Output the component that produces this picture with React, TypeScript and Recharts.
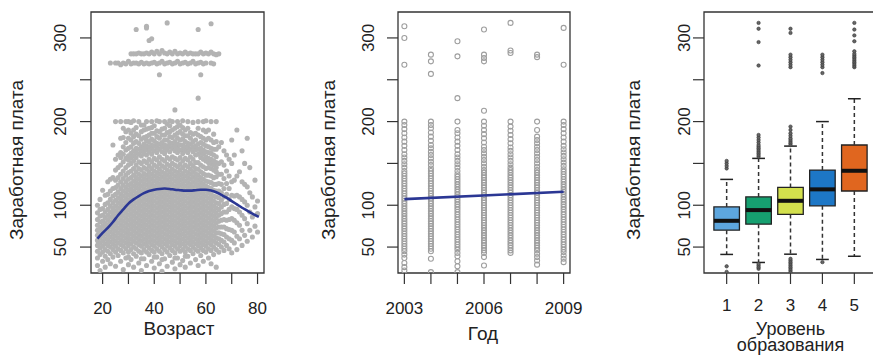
import React from 'react';
import { ScatterChart, Scatter, XAxis, YAxis, ReferenceArea, ReferenceLine } from 'recharts';

const FONT = '"Liberation Sans", Arial, Helvetica, sans-serif';
const INK = '#222';

// ---------- shared y axis ----------
const Y_DOMAIN: [number, number] = [19, 331];
const Y_TICKS = [50, 100, 150, 200, 250, 300];
const Y_TICK_LABELS = [50, 100, 200, 300];
const Y_TITLE = 'Заработная плата';

// ---------- panel 1: age ----------
const AGE_TICKS = [20, 30, 40, 50, 60, 70, 80];
const AGE_TICK_LABELS = [20, 40, 60, 80];
const AGE_TITLE = 'Возраст';
const AGES = [18, 19, 20, 21, 22, 23, 24, 25, 26, 27, 28, 29, 30, 31, 32, 33, 34, 35, 36, 37, 38, 39, 40, 41, 42, 43, 44, 45, 46, 47, 48, 49, 50, 51, 52, 53, 54, 55, 56, 57, 58, 59, 60, 61, 62, 63, 64, 65, 66, 67, 68, 69, 70, 71, 72, 73, 74, 75, 76, 77, 78, 79, 80];
const WAGES_BY_AGE: number[][] = [
  [28, 37, 45, 52, 58, 64, 70, 76, 83, 91, 100],
  [22, 41, 49, 55, 61, 67, 73, 80, 87, 95, 107],
  [33, 44, 51, 57, 63, 69, 75, 81, 88, 96, 118],
  [26, 39, 47, 54, 60, 66, 72, 78, 85, 92, 101, 112],
  [35, 45, 52, 58, 64, 70, 76, 82, 88, 95, 103, 113, 128],
  [30, 42, 50, 56, 62, 68, 74, 80, 86, 92, 99, 107, 117, 131, 270],
  [38, 47, 54, 60, 66, 72, 78, 84, 90, 96, 103, 111, 120, 133, 172],
  [27, 44, 51, 57, 63, 69, 75, 81, 87, 93, 99, 106, 113, 121, 130, 142, 155, 200, 270],
  [40, 48, 55, 61, 67, 73, 79, 85, 91, 97, 103, 109, 116, 124, 133, 145, 160, 270],
  [33, 46, 53, 59, 65, 71, 77, 83, 89, 95, 101, 107, 113, 120, 128, 137, 148, 157, 163, 180, 200, 268],
  [23, 43, 51, 57, 63, 69, 75, 81, 87, 93, 99, 105, 111, 117, 124, 132, 141, 152, 161, 170, 181, 192, 270],
  [37, 48, 55, 61, 67, 73, 79, 85, 91, 97, 103, 109, 115, 121, 128, 136, 145, 156, 166, 175, 188, 200, 269],
  [29, 38, 44, 52, 58, 64, 70, 76, 82, 88, 94, 100, 106, 112, 118, 124, 131, 139, 148, 154, 159, 168, 180, 190, 200, 272],
  [35, 47, 54, 60, 66, 72, 78, 84, 90, 96, 102, 108, 114, 120, 126, 133, 141, 150, 157, 162, 170, 178, 186, 199, 281, 269],
  [26, 42, 50, 57, 63, 69, 75, 81, 87, 93, 99, 105, 111, 117, 123, 129, 136, 144, 153, 159, 165, 174, 182, 190, 201, 281, 270],
  [39, 48, 55, 61, 67, 73, 79, 85, 91, 97, 103, 109, 115, 121, 127, 133, 140, 148, 157, 163, 168, 176, 185, 193, 281, 270, 310],
  [31, 45, 53, 59, 65, 71, 77, 83, 89, 95, 101, 107, 113, 119, 125, 131, 137, 144, 152, 161, 167, 174, 183, 200, 282, 269],
  [22, 36, 43, 51, 57, 63, 69, 75, 81, 87, 93, 99, 105, 111, 117, 123, 129, 135, 142, 150, 159, 165, 170, 179, 188, 196, 281, 271],
  [36, 47, 54, 60, 66, 72, 78, 84, 90, 96, 102, 108, 114, 120, 126, 132, 138, 145, 153, 162, 168, 173, 181, 190, 196, 281, 269],
  [28, 44, 52, 58, 64, 70, 76, 82, 88, 94, 100, 106, 112, 118, 124, 130, 136, 143, 151, 160, 166, 171, 177, 182, 191, 200, 282, 270, 314, 312],
  [41, 49, 56, 62, 68, 74, 80, 86, 92, 98, 104, 110, 116, 122, 128, 134, 140, 147, 155, 164, 170, 176, 184, 192, 281, 269, 297],
  [33, 46, 53, 59, 65, 71, 77, 83, 89, 95, 101, 107, 113, 119, 125, 131, 137, 144, 152, 161, 167, 172, 179, 186, 193, 200, 283, 270, 299],
  [25, 38, 44, 51, 57, 63, 69, 75, 81, 87, 93, 99, 105, 111, 117, 123, 129, 135, 141, 148, 156, 165, 171, 177, 186, 195, 281, 271],
  [38, 48, 55, 61, 67, 73, 79, 85, 91, 97, 103, 109, 115, 121, 127, 133, 139, 146, 154, 163, 169, 174, 182, 189, 201, 284, 269],
  [30, 45, 53, 59, 65, 71, 77, 83, 89, 95, 101, 107, 113, 119, 125, 131, 137, 143, 150, 158, 167, 173, 180, 188, 200, 281, 270, 256],
  [21, 35, 42, 50, 56, 62, 68, 74, 80, 86, 92, 98, 104, 110, 116, 122, 128, 134, 140, 147, 155, 164, 170, 175, 184, 191, 285, 272],
  [36, 47, 54, 60, 66, 72, 78, 84, 90, 96, 102, 108, 114, 120, 126, 132, 138, 145, 153, 162, 168, 172, 178, 184, 192, 200, 282, 269],
  [27, 44, 52, 58, 64, 70, 76, 82, 88, 94, 100, 106, 112, 118, 124, 130, 136, 142, 149, 157, 166, 171, 178, 187, 197, 281, 270, 318],
  [40, 49, 56, 62, 68, 74, 80, 86, 92, 98, 104, 110, 116, 122, 128, 134, 140, 147, 155, 164, 170, 175, 182, 188, 195, 201, 283, 271],
  [32, 46, 53, 59, 65, 71, 77, 83, 89, 95, 101, 107, 113, 119, 125, 131, 137, 143, 150, 158, 168, 174, 181, 190, 200, 281, 269],
  [24, 37, 43, 51, 57, 63, 69, 75, 81, 87, 93, 99, 105, 111, 117, 123, 129, 135, 141, 148, 156, 165, 171, 176, 184, 192, 214, 284, 270],
  [37, 48, 55, 61, 67, 73, 79, 85, 91, 97, 103, 109, 115, 121, 127, 133, 139, 146, 154, 163, 168, 173, 180, 186, 194, 200, 281, 272],
  [29, 45, 52, 58, 64, 70, 76, 82, 88, 94, 100, 106, 112, 118, 124, 130, 136, 142, 149, 157, 166, 172, 178, 188, 196, 282, 269],
  [34, 47, 54, 60, 66, 72, 78, 84, 90, 96, 102, 108, 114, 120, 126, 132, 138, 145, 153, 162, 167, 172, 179, 185, 193, 201, 281, 270],
  [26, 39, 44, 51, 57, 63, 69, 75, 81, 87, 93, 99, 105, 111, 117, 123, 129, 135, 141, 148, 156, 165, 170, 176, 183, 190, 283, 271],
  [39, 48, 55, 61, 67, 73, 79, 85, 91, 97, 103, 109, 115, 121, 127, 133, 139, 146, 154, 163, 169, 174, 183, 192, 200, 281, 269],
  [31, 46, 53, 59, 65, 71, 77, 83, 89, 95, 101, 107, 113, 119, 125, 131, 137, 143, 150, 158, 167, 173, 180, 187, 282, 270],
  [42, 50, 56, 62, 68, 74, 80, 86, 92, 98, 104, 110, 116, 122, 128, 134, 140, 147, 155, 164, 170, 176, 185, 199, 281, 272],
  [35, 47, 54, 60, 66, 72, 78, 84, 90, 96, 102, 108, 114, 120, 126, 132, 138, 144, 151, 160, 166, 171, 178, 186, 281, 269],
  [28, 45, 52, 58, 64, 70, 76, 82, 88, 94, 100, 106, 112, 118, 124, 130, 136, 143, 151, 161, 167, 173, 184, 192, 200, 228, 281, 270, 310],
  [40, 49, 55, 61, 67, 73, 79, 85, 91, 97, 103, 109, 115, 121, 127, 133, 140, 148, 157, 163, 168, 175, 182, 256, 283, 271],
  [33, 46, 53, 59, 65, 71, 77, 83, 89, 95, 101, 107, 113, 119, 125, 131, 138, 146, 155, 161, 166, 173, 180, 190, 200, 281, 269],
  [44, 51, 57, 63, 69, 75, 81, 87, 93, 99, 105, 111, 117, 123, 129, 136, 144, 153, 158, 164, 171, 178, 188, 201, 282, 270],
  [37, 48, 55, 61, 67, 73, 79, 85, 91, 97, 103, 109, 115, 121, 128, 136, 145, 151, 156, 163, 170, 180, 190, 281],
  [30, 46, 53, 59, 65, 71, 77, 83, 89, 95, 101, 107, 113, 120, 127, 135, 144, 150, 155, 162, 168, 178, 200, 283, 270, 317],
  [41, 50, 57, 63, 69, 75, 81, 87, 93, 99, 105, 111, 118, 125, 133, 142, 148, 153, 160, 167, 175, 185, 281, 269],
  [26, 47, 55, 61, 67, 73, 79, 85, 91, 97, 103, 110, 117, 125, 134, 140, 145, 151, 158, 167, 176, 200, 280],
  [44, 53, 60, 67, 74, 81, 88, 95, 102, 109, 117, 126, 137, 150, 170, 281],
  [50, 58, 66, 74, 82, 90, 98, 106, 115, 125, 137, 152, 175],
  [46, 56, 65, 74, 83, 92, 101, 110, 120, 132, 148, 165],
  [52, 62, 72, 82, 92, 102, 113, 126, 141, 160],
  [48, 60, 71, 83, 95, 107, 120, 135, 155],
  [43, 58, 70, 84, 98, 112, 128, 150, 178],
  [55, 68, 82, 96, 111, 130, 160],
  [47, 63, 79, 95, 112, 135, 190],
  [60, 76, 92, 110, 140],
  [52, 70, 88, 107, 128, 165],
  [64, 84, 104, 125, 150],
  [57, 78, 100, 122, 180],
  [70, 92, 115, 145],
  [62, 86, 110],
  [75, 98, 130],
  [68, 90, 105],
];
const AGE_CURVE_X = [18, 20, 22, 24, 26, 28, 30, 32, 34, 36, 38, 40, 42, 44, 46, 48, 50, 52, 54, 56, 58, 60, 62, 64, 66, 68, 70, 72, 74, 76, 78, 80.5];
const AGE_CURVE_Y = [60, 67, 73, 80, 88, 95, 102, 107, 111, 114.5, 117, 118.5, 119.5, 120, 119.5, 118.5, 118, 117.5, 117.5, 118, 118.5, 118.5, 117.5, 115.5, 112.5, 109, 105, 101, 97, 93.5, 90, 86];

// ---------- panel 2: year ----------
const YEARS = [2003, 2004, 2005, 2006, 2007, 2008, 2009];
const YEAR_TICK_LABELS = [2003, 2006, 2009];
const YEAR_TITLE = 'Год';
const WAGES_BY_YEAR: number[][] = [
  [22, 26, 31, 37, 41, 45, 48, 51, 54, 57, 60, 63, 66, 69, 72, 75, 78, 81, 84, 87, 90, 93, 96, 99, 102, 105, 108, 111, 114, 117, 120, 123, 126, 129, 132, 135, 138, 141, 145, 149, 153, 157, 161, 166, 171, 176, 181, 186, 191, 196, 200, 268, 300, 314],
  [20, 36, 45, 48, 51, 54, 57, 60, 63, 66, 69, 72, 75, 78, 81, 84, 87, 90, 93, 96, 99, 102, 105, 108, 111, 114, 117, 120, 123, 126, 129, 132, 135, 138, 141, 144, 148, 152, 156, 160, 164, 168, 172, 177, 182, 187, 192, 196, 200, 257, 272, 280],
  [20, 27, 33, 39, 43, 47, 50, 53, 56, 59, 62, 65, 68, 71, 74, 77, 80, 83, 86, 89, 92, 95, 98, 101, 104, 107, 110, 113, 116, 119, 122, 125, 128, 131, 134, 137, 141, 145, 149, 153, 157, 161, 166, 171, 176, 181, 186, 190, 200, 228, 278, 296],
  [28, 38, 43, 46, 49, 52, 55, 58, 61, 64, 67, 70, 73, 76, 79, 82, 85, 88, 91, 94, 97, 100, 103, 106, 109, 112, 115, 118, 121, 124, 127, 130, 133, 136, 139, 142, 146, 150, 154, 158, 162, 166, 170, 175, 180, 185, 190, 195, 200, 213, 272, 276, 280, 310],
  [43, 46, 49, 52, 55, 58, 61, 64, 67, 70, 73, 76, 79, 82, 85, 88, 91, 94, 97, 100, 103, 106, 109, 112, 115, 118, 121, 124, 127, 130, 133, 136, 139, 142, 145, 149, 153, 157, 161, 165, 169, 174, 179, 184, 189, 194, 200, 282, 285, 318],
  [29, 34, 38, 42, 46, 49, 52, 55, 58, 61, 64, 67, 70, 73, 76, 79, 82, 85, 88, 91, 94, 97, 100, 103, 106, 109, 112, 115, 118, 121, 124, 127, 130, 133, 136, 139, 142, 146, 150, 154, 158, 162, 166, 170, 174, 178, 182, 190, 200, 277, 280],
  [32, 36, 40, 44, 47, 50, 53, 56, 59, 62, 65, 68, 71, 74, 77, 80, 83, 86, 89, 92, 95, 98, 101, 104, 107, 110, 113, 116, 119, 122, 125, 128, 131, 134, 137, 140, 143, 147, 151, 155, 159, 163, 167, 171, 176, 181, 186, 191, 196, 200, 268, 312],
];
const YEAR_FIT_X = [2003, 2009];
const YEAR_FIT_Y = [107.3, 116.1];

// ---------- panel 3: education ----------
const EDU_LEVELS = [1, 2, 3, 4, 5];
const EDU_TITLE_1 = 'Уровень';
const EDU_TITLE_2 = 'образования';
const EDU_MIN = [41.2, 31.6, 41.5, 35.2, 39];
const EDU_Q1 = [70.2, 77.4, 89, 99.3, 117];
const EDU_MEDIAN = [81.4, 94.2, 105.3, 119, 141.2];
const EDU_Q3 = [98, 110, 121.3, 142, 172];
const EDU_MAX = [130.9, 156, 170.7, 200, 227.3];
const EDU_COLORS = ['#5da6de', '#16a070', '#d3e04d', '#1d77c6', '#e0661f'];
const EDU_OUTLIERS: number[][] = [
  [20.4, 27, 144, 147, 150, 153],
  [24, 26, 28, 30, 158, 160, 162, 164, 166, 168, 170, 172, 175, 178, 181, 184, 267, 295, 311, 318],
  [20, 22, 24, 26, 28, 30, 32, 34, 36, 172, 174, 176, 178, 180, 183, 186, 190, 194, 265, 268, 271, 274, 277, 280, 306, 311],
  [32, 258, 265, 268, 271, 274, 277, 280],
  [265, 267, 269, 271, 273, 275, 277, 279, 281, 284, 296, 303, 310, 318],
];

// ---------- derived tables ----------
const agePoints = AGES.flatMap((a, i) => WAGES_BY_AGE[i].map((w) => ({ x: a, y: w })));
const ageCurve = AGE_CURVE_X.map((x, i) => ({ x, y: AGE_CURVE_Y[i] }));
const yearPoints = YEARS.flatMap((yr, i) => WAGES_BY_YEAR[i].map((w) => ({ x: yr, y: w })));
const yearFit = YEAR_FIT_X.map((x, i) => ({ x, y: YEAR_FIT_Y[i] }));
const eduOutliers = EDU_LEVELS.flatMap((e, i) => EDU_OUTLIERS[i].map((w) => ({ x: e, y: w })));

// ---------- helpers ----------
const makeYTick = (baselineX: number) => (props: any) => {
  const { y, payload } = props;
  const v = payload.value;
  if (!Y_TICK_LABELS.includes(v)) return <g />;
  return (
    <text transform={`translate(${baselineX},${y}) rotate(-90)`} textAnchor="middle" fontSize={17} fill={INK} fontFamily={FONT}>
      {v}
    </text>
  );
};

const makeXTick = (baselineY: number, labels: number[]) => (props: any) => {
  const { x, payload } = props;
  const v = payload.value;
  if (!labels.includes(v)) return <g />;
  return (
    <text x={x} y={baselineY} textAnchor="middle" fontSize={17} fill={INK} fontFamily={FONT}>
      {v}
    </text>
  );
};

const grayDot = (p: any) => <circle cx={p.cx} cy={p.cy} r={2.55} fill="#b3b3b3" />;
const ringDot = (p: any) => <circle cx={p.cx} cy={p.cy} r={2.5} fill="none" stroke="#9e9e9e" strokeWidth={1.1} />;
const darkDot = (p: any) => <circle cx={p.cx} cy={p.cy} r={1.7} fill="#666" stroke="#333" strokeWidth={0.6} />;
const noDot = () => <g />;

const tickLine = { stroke: '#333', strokeWidth: 1.2 };

export default function App() {
  return (
    <div style={{ position: 'absolute', left: 0, top: 0, width: 873, height: 355, overflow: 'hidden', background: '#fff' }}>
      {/* Panel 1 */}
      <div style={{ position: 'absolute', left: 0, top: 0 }}>
        <ScatterChart width={290} height={355} margin={{ top: 12, right: 26, bottom: 32, left: 31 }}>
          <XAxis type="number" dataKey="x" domain={[15.5, 82.5]} allowDataOverflow ticks={AGE_TICKS} interval={0} height={50} tickSize={11} tickLine={tickLine} axisLine={false} tick={makeXTick(314, AGE_TICK_LABELS)} />
          <YAxis type="number" dataKey="y" domain={Y_DOMAIN} allowDataOverflow ticks={Y_TICKS} interval={0} width={60} tickSize={11} tickLine={tickLine} axisLine={false} tick={makeYTick(66)} />
          <Scatter data={agePoints} shape={grayDot} isAnimationActive={false} />
          <Scatter data={ageCurve} shape={noDot} line={{ stroke: '#2b3794', strokeWidth: 2.6 }} lineJointType="monotoneX" isAnimationActive={false} />
          <ReferenceArea x1={15.5} x2={82.5} y1={19} y2={331} fill="none" stroke="#333" strokeWidth={1.3} ifOverflow="visible" />
        </ScatterChart>
      </div>

      {/* Panel 2 */}
      <div style={{ position: 'absolute', left: 290, top: 0 }}>
        <ScatterChart width={310} height={355} margin={{ top: 12, right: 30, bottom: 32, left: 48 }}>
          <XAxis type="number" dataKey="x" domain={[2002.76, 2009.24]} allowDataOverflow ticks={YEARS} interval={0} height={50} tickSize={11} tickLine={tickLine} axisLine={false} tick={makeXTick(313.5, YEAR_TICK_LABELS)} />
          <YAxis type="number" dataKey="y" domain={Y_DOMAIN} allowDataOverflow ticks={Y_TICKS} interval={0} width={60} tickSize={11} tickLine={tickLine} axisLine={false} tick={makeYTick(83.5)} />
          <Scatter data={yearPoints} shape={ringDot} isAnimationActive={false} />
          <Scatter data={yearFit} shape={noDot} line={{ stroke: '#2b3794', strokeWidth: 2.6 }} isAnimationActive={false} />
          <ReferenceArea x1={2002.76} x2={2009.24} y1={19} y2={331} fill="none" stroke="#333" strokeWidth={1.3} ifOverflow="visible" />
        </ScatterChart>
      </div>

      {/* Panel 3 */}
      <div style={{ position: 'absolute', left: 580, top: 0 }}>
        <ScatterChart width={300} height={355} margin={{ top: 12, right: 3, bottom: 32, left: 64 }}>
          <XAxis type="number" dataKey="x" domain={[0.29, 5.71]} allowDataOverflow ticks={EDU_LEVELS} interval={0} height={50} tickSize={11} tickLine={tickLine} axisLine={false} tick={makeXTick(310.7, EDU_LEVELS)} />
          <YAxis type="number" dataKey="y" domain={Y_DOMAIN} allowDataOverflow ticks={Y_TICKS} interval={0} width={60} tickSize={11} tickLine={tickLine} axisLine={false} tick={makeYTick(110)} />
          {EDU_LEVELS.map((e, i) => (
            <ReferenceLine key={`wu${e}`} segment={[{ x: e, y: EDU_Q3[i] }, { x: e, y: EDU_MAX[i] }]} stroke="#333" strokeWidth={1.5} strokeDasharray="4 3" />
          ))}
          {EDU_LEVELS.map((e, i) => (
            <ReferenceLine key={`wl${e}`} segment={[{ x: e, y: EDU_Q1[i] }, { x: e, y: EDU_MIN[i] }]} stroke="#333" strokeWidth={1.5} strokeDasharray="4 3" />
          ))}
          {EDU_LEVELS.map((e, i) => (
            <ReferenceLine key={`cu${e}`} segment={[{ x: e - 0.2, y: EDU_MAX[i] }, { x: e + 0.2, y: EDU_MAX[i] }]} stroke="#222" strokeWidth={1.5} />
          ))}
          {EDU_LEVELS.map((e, i) => (
            <ReferenceLine key={`cl${e}`} segment={[{ x: e - 0.2, y: EDU_MIN[i] }, { x: e + 0.2, y: EDU_MIN[i] }]} stroke="#222" strokeWidth={1.5} />
          ))}
          {EDU_LEVELS.map((e, i) => (
            <ReferenceArea key={`b${e}`} x1={e - 0.4} x2={e + 0.4} y1={EDU_Q1[i]} y2={EDU_Q3[i]} fill={EDU_COLORS[i]} fillOpacity={1} stroke="#222" strokeWidth={1.3} />
          ))}
          {EDU_LEVELS.map((e, i) => (
            <ReferenceLine key={`m${e}`} segment={[{ x: e - 0.4, y: EDU_MEDIAN[i] }, { x: e + 0.4, y: EDU_MEDIAN[i] }]} stroke="#111" strokeWidth={4} />
          ))}
          <Scatter data={eduOutliers} shape={darkDot} isAnimationActive={false} />
          <ReferenceArea x1={0.29} x2={5.71} y1={19} y2={331} fill="none" stroke="#333" strokeWidth={1.3} ifOverflow="visible" />
        </ScatterChart>
      </div>

      {/* Axis titles */}
      <svg width={873} height={355} style={{ position: 'absolute', left: 0, top: 0, pointerEvents: 'none' }}>
        <g fontFamily={FONT} fill={INK}>
          <text fontSize={19} transform="translate(22.5,160) rotate(-90)" textAnchor="middle">{Y_TITLE}</text>
          <text fontSize={19} transform="translate(334.5,160) rotate(-90)" textAnchor="middle">{Y_TITLE}</text>
          <text fontSize={19} transform="translate(639.5,160) rotate(-90)" textAnchor="middle">{Y_TITLE}</text>
          <text fontSize={19} x={179} y={335} textAnchor="middle">{AGE_TITLE}</text>
          <text fontSize={19} x={483} y={340} textAnchor="middle">{YEAR_TITLE}</text>
          <text fontSize={18} x={790.5} y={335} textAnchor="middle">{EDU_TITLE_1}</text>
          <text fontSize={18} x={790.5} y={351} textAnchor="middle">{EDU_TITLE_2}</text>
        </g>
      </svg>
    </div>
  );
}
